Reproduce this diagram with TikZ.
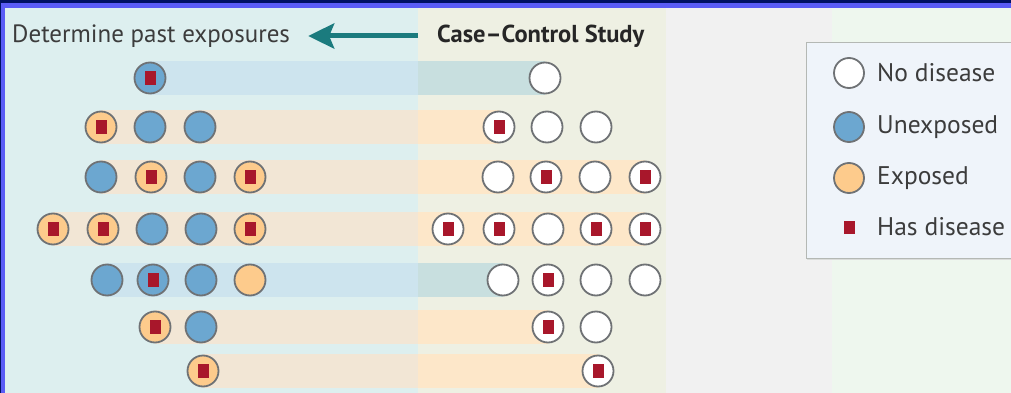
\documentclass[tikz,border=0pt]{standalone}
\usepackage{fontspec}
\setmainfont{PT Sans}
\usetikzlibrary{arrows.meta}

\definecolor{framenavy}{HTML}{001163}
\definecolor{frameblue}{HTML}{5A5CF6}
\definecolor{leftbg}{HTML}{DDEFEF}
\definecolor{midbg}{HTML}{EEF0E3}
\definecolor{graybg}{HTML}{F1F1F1}
\definecolor{greenbg}{HTML}{EEF7EE}
\definecolor{legendbg}{HTML}{EFF4FA}
\definecolor{legendline}{HTML}{B4B8B4}
\definecolor{bandblueL}{HTML}{CDE4EE}
\definecolor{bandblueR}{HTML}{C8DFDF}
\definecolor{bandorangeL}{HTML}{F2E6D5}
\definecolor{bandorangeR}{HTML}{FDE7C9}
\definecolor{ringgray}{HTML}{6F7275}
\definecolor{ballblue}{HTML}{6CA7D0}
\definecolor{ballorange}{HTML}{FDCB8C}
\definecolor{diseasered}{HTML}{A8172B}
\definecolor{arrowteal}{HTML}{1B7B7E}
\definecolor{textgray}{HTML}{3C3C3C}

\begin{document}
\begin{tikzpicture}[x=1pt,y=-1pt,
  ball/.style={circle, draw=ringgray, line width=1.8pt, minimum size=31pt, inner sep=0pt},
  sick/.style={path picture={\fill[diseasered]
      ([xshift=-5.5pt,yshift=-7pt]path picture bounding box.center) rectangle ++(11pt,14pt);}},
  ballN/.style={ball, fill=white},
  ballU/.style={ball, fill=ballblue},
  ballE/.style={ball, fill=ballorange},
  ballND/.style={ballN, sick},
  ballUD/.style={ballU, sick},
  ballED/.style={ballE, sick},
  header/.style={inner sep=0pt, anchor=west, text=textgray, font=\fontsize{25}{29}\selectfont},
  legtext/.style={inner sep=0pt, anchor=west, text=textgray, font=\fontsize{25.5}{29}\selectfont},
  flow/.style={arrowteal, line width=5pt, -{Stealth[length=26pt, width=25pt, inset=5pt]}}
]
\useasboundingbox (0,0) rectangle (1011,393);

% frame and panel backgrounds
\fill[framenavy] (0,0) rectangle (1011,393);
\fill[frameblue] (1,3) rectangle (1011,393);
\fill[leftbg] (5,8) rectangle (418,393);
\fill[midbg] (418,8) rectangle (666,393);
\fill[graybg] (666,8) rectangle (832,393);
\fill[greenbg] (832,8) rectangle (1011,393);

% row bands: left part (past) and right part (study)
\foreach \y/\a/\b/\cl/\cr in {78/150/545/bandblueL/bandblueR,
                               127/101/499/bandorangeL/bandorangeR,
                               177/101/645/bandorangeL/bandorangeR,
                               229/53/645/bandorangeL/bandorangeR,
                               280/107/503/bandblueL/bandblueR,
                               327/155/548/bandorangeL/bandorangeR,
                               371/203/598/bandorangeL/bandorangeR}{
  \fill[\cl] (\a,\y-17) rectangle (418,\y+17);
  \fill[\cr] (418,\y-17) rectangle (\b,\y+17);
}

% headings and arrow
\node[header] (past) at (12,36) {Determine past exposures};
\node[header, font=\fontsize{24.5}{29}\selectfont\bfseries, text=black!85] (study) at (437,36) {Case–Control Study};
\coordinate (arrtail) at (418,36);
\draw[flow] (arrtail) -- (past.east) [shorten >=18pt];

% past exposures (left)
\node[ballUD] (L11) at (150,78) {};

\node[ballED] (L21) at (101,127) {};
\node[ballU]  (L22) at (150,127) {};
\node[ballU]  (L23) at (200,127) {};

\node[ballU]  (L31) at (101,177) {};
\node[ballED] (L32) at (151,177) {};
\node[ballU]  (L33) at (200,177) {};
\node[ballED] (L34) at (250,177) {};

\node[ballED] (L41) at (53,229) {};
\node[ballED] (L42) at (103,229) {};
\node[ballU]  (L43) at (152,229) {};
\node[ballU]  (L44) at (201,229) {};
\node[ballED] (L45) at (250,229) {};

\node[ballU]  (L51) at (107,280) {};
\node[ballUD] (L52) at (153,280) {};
\node[ballU]  (L53) at (201,280) {};
\node[ballE]  (L54) at (250,280) {};

\node[ballED] (L61) at (155,327) {};
\node[ballU]  (L62) at (201,327) {};

\node[ballED] (L71) at (203,371) {};

% study population (right)
\node[ballN]  (R11) at (545,78) {};

\node[ballND] (R21) at (499,127) {};
\node[ballN]  (R22) at (547,127) {};
\node[ballN]  (R23) at (596,127) {};

\node[ballN]  (R31) at (498,177) {};
\node[ballND] (R32) at (546,177) {};
\node[ballN]  (R33) at (595,177) {};
\node[ballND] (R34) at (645,177) {};

\node[ballND] (R41) at (448,229) {};
\node[ballND] (R42) at (499,229) {};
\node[ballN]  (R43) at (548,229) {};
\node[ballND] (R44) at (596,229) {};
\node[ballND] (R45) at (645,229) {};

\node[ballN]  (R51) at (503,280) {};
\node[ballND] (R52) at (548,280) {};
\node[ballN]  (R53) at (596,280) {};
\node[ballN]  (R54) at (645,280) {};

\node[ballND] (R61) at (548,327) {};
\node[ballN]  (R62) at (596,327) {};

\node[ballND] (R71) at (598,371) {};

% legend
\fill[legendline!50] (807,44) rectangle (1016,260);
\node[draw=legendline, line width=0.8pt, fill=legendbg, minimum width=210pt, minimum height=216pt,
      anchor=north west, inner sep=0pt] (legend) at (806,42) {};
\node[ballN, minimum size=30pt] (kN) at (849,73) {};
\node[ballU, minimum size=30pt] (kU) at (849,127) {};
\node[ballE, minimum size=30pt] (kE) at (849,178) {};
\node[fill=diseasered, minimum width=11pt, minimum height=13pt, inner sep=0pt] (kD) at (849,227) {};
\node[legtext] (tN) at (877,73) {No disease};
\node[legtext] (tU) at (877,127) {Unexposed};
\node[legtext] (tE) at (877,178) {Exposed};
\node[legtext] (tD) at (877,227) {Has disease};
\end{tikzpicture}
\end{document}
